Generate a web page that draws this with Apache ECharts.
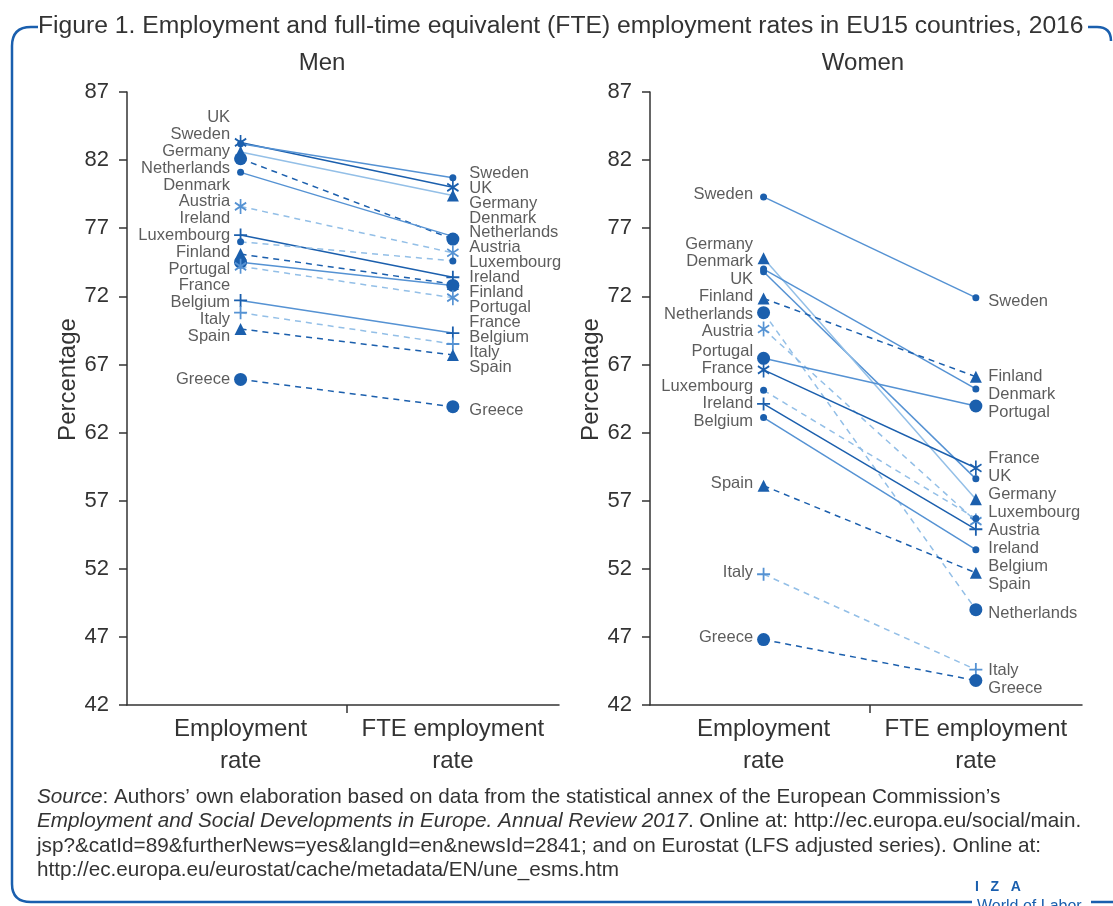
<!DOCTYPE html>
<html><head><meta charset="utf-8">
<script src="https://cdn.jsdelivr.net/npm/echarts@6/dist/echarts.min.js"></script>
<style>html,body{margin:0;padding:0;background:#fff}#c{width:1113px;height:906px}</style>
</head><body><div id="c"></div>
<script>
// ---------------- DATA ----------------
const countries = ['UK','Sweden','Germany','Netherlands','Denmark','Austria','Ireland','Luxembourg','Finland','Portugal','France','Belgium','Italy','Spain','Greece'];
const categories = ['Employment\nrate','FTE employment\nrate'];
const panelTitles = ['Men','Women'];
const yMin = 42, yMax = 87, yStep = 5;
const menEmployment   = [83.3,83.2,82.6,82.1,81.1,78.6,76.5,76.0,75.1,74.5,74.2,71.7,70.8,69.6,65.9];
const menFTE          = [80.0,80.7,79.4,76.2,76.4,75.2,73.4,74.6,72.9,72.8,71.9,69.3,68.5,67.7,63.9];
const womenEmployment = [73.8,79.3,74.8,70.8,74.0,69.6,64.1,65.1,71.85,67.45,66.6,63.1,51.6,58.1,46.8];
const womenFTE        = [58.6,71.9,57.1,49.0,65.2,55.5,54.9,55.7,66.1,63.95,59.4,53.4,44.6,51.7,43.8];

// ---------------- STYLES ----------------
const FONT = '"Liberation Sans", Arial, sans-serif';
const TXT = '#333333';
const BLUE = '#1a5fae';
const C = {dark:'#1b5fad', mid:'#5592d3', light:'#93bfe7'};
const SYM = {
  dot:{symbol:'circle', size:7},
  bigdot:{symbol:'circle', size:13},
  triangle:{symbol:'triangle', size:12},
  asterisk:{symbol:'path://M0,-10L0,10M-8.66,-5L8.66,5M-8.66,5L8.66,-5', size:[13,15], stroke:true},
  plus:{symbol:'path://M0,-10L0,10M-10,0L10,0', size:[13,13], stroke:true}
};
const menStyle = {
  UK:['asterisk','solid','dark'], Sweden:['dot','solid','mid'], Germany:['triangle','solid','light'],
  Netherlands:['bigdot','dashed','dark'], Denmark:['dot','solid','mid'], Austria:['asterisk','dashed','light'],
  Ireland:['plus','solid','dark'], Luxembourg:['dot','dashed','light'], Finland:['triangle','dashed','dark'],
  Portugal:['bigdot','solid','mid'], France:['asterisk','dashed','light'], Belgium:['plus','solid','mid'],
  Italy:['plus','dashed','light'], Spain:['triangle','dashed','dark'], Greece:['bigdot','dashed','dark']
};
const womenStyle = {
  UK:['dot','solid','mid'], Sweden:['dot','solid','mid'], Germany:['triangle','solid','light'],
  Netherlands:['bigdot','dashed','light'], Denmark:['dot','solid','mid'], Austria:['asterisk','dashed','light'],
  Ireland:['plus','solid','dark'], Luxembourg:['dot','dashed','light'], Finland:['triangle','dashed','dark'],
  Portugal:['bigdot','solid','mid'], France:['asterisk','solid','dark'], Belgium:['dot','solid','mid'],
  Italy:['plus','dashed','light'], Spain:['triangle','dashed','dark'], Greece:['bigdot','dashed','dark']
};
const panels = [
  {key:'m', emp:menEmployment, fte:menFTE, style:menStyle, left:127, gapL:16.8, gapR:14.9, distL:10, distR:16, shiftL:0, shiftR:4, cx:322},
  {key:'w', emp:womenEmployment, fte:womenFTE, style:womenStyle, left:650, gapL:17.5, gapR:18, distL:10, distR:12, shiftL:-2, shiftR:4, cx:863}
];

const chart = echarts.init(document.getElementById('c'));

function buildAxes(){
  const grid = panels.map(p => ({left:p.left, top:92, width:432, height:613}));
  const xAxis = panels.map((p,g) => ({
    type:'value', gridIndex:g, min:-0.535, max:1.5,
    splitLine:{show:false},
    axisLine:{show:true, onZero:false, lineStyle:{color:TXT, width:1.5}},
    axisTick:{show:true, customValues:[0.5], length:8, lineStyle:{color:TXT, width:1.5}},
    axisLabel:{customValues:[0,1], formatter:v => categories[Math.round(v)], fontSize:24, lineHeight:32, color:TXT, fontFamily:FONT, margin:8}
  }));
  const yAxis = panels.map((p,g) => ({
    type:'value', gridIndex:g, min:yMin, max:yMax, interval:yStep,
    splitLine:{show:false},
    axisLine:{show:true, onZero:false, lineStyle:{color:TXT, width:1.5}},
    axisTick:{show:true, length:8, lineStyle:{color:TXT, width:1.5}},
    axisLabel:{fontSize:22, color:TXT, fontFamily:FONT, margin:18},
    name:'Percentage', nameLocation:'middle', nameGap:46,
    nameTextStyle:{fontSize:24, color:TXT, fontFamily:FONT, padding:[0,0,0,38]}
  }));
  return {grid, xAxis, yAxis};
}

function lineSeries(){
  const out = [];
  panels.forEach((p,g) => {
    countries.forEach((c,i) => {
      const [mk, ls, col] = p.style[c];
      const s = SYM[mk];
      const mcol = s.stroke ? (col === 'light' ? C.mid : C.dark) : C.dark;
      out.push({
        type:'line', name:p.key + c, xAxisIndex:g, yAxisIndex:g,
        data:[[0, p.emp[i]], [1, p.fte[i]]],
        symbol:s.symbol, symbolSize:s.size, showSymbol:true, symbolKeepAspect:true,
        lineStyle:{color:C[col], width:1.5, type: ls === 'dashed' ? [6,5] : 'solid'},
        itemStyle:{color:mcol, borderColor:mcol, borderWidth: s.stroke ? 1.8 : 0},
        emphasis:{disabled:true}, animation:false, silent:true, z:2
      });
    });
  });
  return out;
}

function declutter(ys, gap){
  const idx = ys.map((y,i) => i).sort((a,b) => (ys[a] - ys[b]) || (a - b));
  const clusters = [];
  idx.forEach(i => {
    clusters.push({items:[i], sum:ys[i], top:ys[i]});
    while (clusters.length > 1) {
      const b = clusters[clusters.length-1], a = clusters[clusters.length-2];
      if (a.top + a.items.length * gap > b.top + 1e-9) {
        const items = a.items.concat(b.items), sum = a.sum + b.sum, n = items.length;
        clusters.splice(-2, 2, {items, sum, top: sum/n - (n-1)*gap/2});
      } else break;
    }
  });
  const out = new Array(ys.length);
  clusters.forEach(cl => cl.items.forEach((i,k) => { out[i] = cl.top + k*gap; }));
  return out;
}

const TITLE = 'Figure 1. Employment and full-time equivalent (FTE) employment rates in EU15 countries, 2016';
const sourceLines = [
  '{i|Source}: Authors\u2019 own elaboration based on data from the statistical annex of the European Commission\u2019s',
  '{i|Employment and Social Developments in Europe. Annual Review 2017}. Online at: http://ec.europa.eu/social/main.',
  'jsp?&catId=89&furtherNews=yes&langId=en&newsId=2841; and on Eurostat (LFS adjusted series). Online at:',
  'http://ec.europa.eu/eurostat/cache/metadata/EN/une_esms.htm'
];

function graphics(){
  const g = [];
  const st = {stroke:BLUE, lineWidth:2.5, fill:null};
  const ln = (x1,y1,x2,y2) => g.push({type:'line', silent:true, shape:{x1,y1,x2,y2}, style:st});
  const qc = (x1,y1,cx,cy,x2,y2) => g.push({type:'bezierCurve', silent:true, shape:{x1,y1,cpx1:cx,cpy1:cy,x2,y2}, style:st});
  ln(38,27,31,27); qc(31,27,12,27,12,46); ln(12,46,12,884); qc(12,884,12,902,31,902);
  ln(31,902,972,902); ln(1091,902,1113,902); ln(1088,27,1097,27); qc(1097,27,1111,27,1111,41);
  g.push({type:'text', x:38, y:26, silent:true, style:{text:TITLE, fontSize:24.7, fontFamily:FONT, fill:TXT, verticalAlign:'middle'}});
  panels.forEach((p,k) => g.push({type:'text', x:p.cx, y:63, silent:true,
    style:{text:panelTitles[k], fontSize:24, fontFamily:FONT, fill:TXT, align:'center', verticalAlign:'middle'}}));
  sourceLines.forEach((t,k) => g.push({type:'text', x:37, y:797 + k*24.5, silent:true,
    style:{text:t, fontSize:20.7, fontFamily:FONT, fill:TXT, verticalAlign:'middle',
      rich:{i:{fontStyle:'italic', fontSize:20.7, fontFamily:FONT, fill:TXT}}}}));
  g.push({type:'text', x:975, y:887, silent:true, style:{text:'I   Z   A', fontSize:14, fontWeight:'bold', fontFamily:FONT, fill:BLUE, verticalAlign:'middle'}});
  g.push({type:'text', x:977, y:899, silent:true, style:{text:'World of Labor', fontSize:16, fontFamily:FONT, fill:BLUE, verticalAlign:'top'}});
  return g;
}

const axes = buildAxes();
const base = {backgroundColor:'#fff', animation:false, ...axes, series:lineSeries(), graphic:graphics()};
chart.setOption(base);

// label columns (decluttered through the chart's own scale)
const labelSeries = [];
panels.forEach((p,g) => {
  [['emp','left',p.gapL,p.distL,p.shiftL,0],['fte','right',p.gapR,p.distR,p.shiftR,1]].forEach(([k,pos,gap,dist,shift,xv]) => {
    const vals = p[k];
    const ys = vals.map(v => chart.convertToPixel({gridIndex:g}, [xv, v])[1]);
    const ly = declutter(ys, gap);
    labelSeries.push({
      type:'scatter', xAxisIndex:g, yAxisIndex:g, symbolSize:1, silent:true, animation:false, z:5,
      itemStyle:{color:'rgba(0,0,0,0)'},
      data: countries.map((c,i) => ({name:c, value:[xv, vals[i]], label:{offset:[0, ly[i]-ys[i]+shift]}})),
      label:{show:true, position:pos, distance:dist, formatter:'{b}', fontSize:16.5, color:TXT, fontFamily:FONT}
    });
  });
});
chart.setOption({...base, series: lineSeries().concat(labelSeries)}, true);
</script></body></html>
